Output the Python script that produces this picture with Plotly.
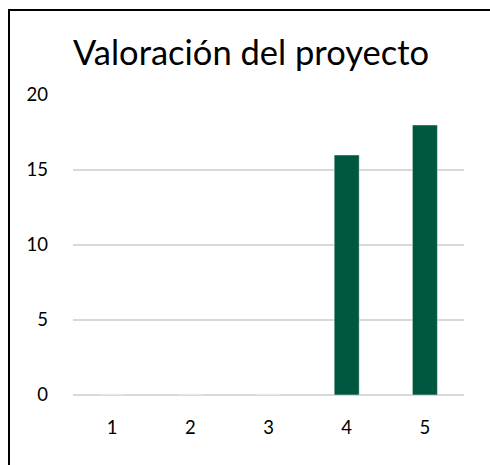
import plotly.graph_objects as go

# Project rating counts per score
scores = ["1", "2", "3", "4", "5"]
counts = [0, 0, 0, 16, 18]
y_ticks = [0, 5, 10, 15, 20]

W, H = 490, 465
L, R, T, B = 73, 26, 95, 70
pw, ph = W - L - R, H - T - B


def px_x(x):
    return (x - L) / pw


def px_y(y):
    return (H - B - y) / ph


fig = go.Figure(
    go.Bar(
        x=scores,
        y=counts,
        marker=dict(color="#00573F", line=dict(color="rgba(255,255,255,0.45)", width=1)),
        hoverinfo="x+y",
    )
)

fig.update_layout(
    width=W,
    height=H,
    margin=dict(l=L, r=R, t=T, b=B),
    paper_bgcolor="white",
    plot_bgcolor="white",
    bargap=0.68,
    showlegend=False,
    font=dict(family="Lato, sans-serif", size=18.5, color="#000000"),
    title=dict(
        text="Valoración del proyecto",
        font=dict(family="Lato, sans-serif", size=34.5, color="#000000"),
        x=251 / W,
        xref="container",
        xanchor="center",
        y=1 - 53 / H,
        yref="container",
        yanchor="middle",
    ),
    xaxis=dict(
        showgrid=False,
        showline=False,
        zeroline=False,
        ticks="",
        ticklabelstandoff=19,
    ),
    yaxis=dict(
        range=[0, 20],
        tickvals=y_ticks,
        showgrid=True,
        gridcolor="#d9d9d9",
        gridwidth=1.5,
        zeroline=True,
        zerolinecolor="#d9d9d9",
        zerolinewidth=1.5,
        showline=False,
        ticks="",
        ticklabelstandoff=24,
    ),
    shapes=[
        # frame: left and top edges
        dict(type="line", xref="paper", yref="paper",
             x0=px_x(9), x1=px_x(9), y0=px_y(10), y1=px_y(H + 5),
             line=dict(color="black", width=2)),
        dict(type="line", xref="paper", yref="paper",
             x0=px_x(8), x1=px_x(W + 5), y0=px_y(10), y1=px_y(10),
             line=dict(color="black", width=2)),
    ],
)

fig.write_html("out.html")
